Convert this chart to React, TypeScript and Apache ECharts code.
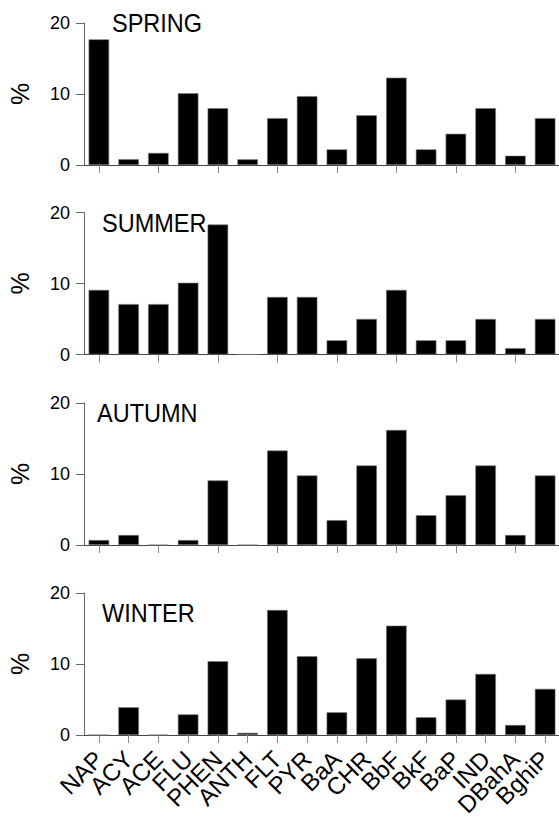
import React, { useEffect, useRef } from "react";
import * as echarts from "echarts";

const categories = ["NAP", "ACY", "ACE", "FLU", "PHEN", "ANTH", "FLT", "PYR", "BaA", "CHR", "BbF", "BkF", "BaP", "IND", "DBahA", "BghiP"];
const seasons = ["SPRING", "SUMMER", "AUTUMN", "WINTER"];
const spring = [17.7, 0.8, 1.7, 10.1, 8.0, 0.8, 6.6, 9.7, 2.2, 7.0, 12.3, 2.2, 4.4, 8.0, 1.3, 6.6];
const summer = [9.1, 7.1, 7.1, 10.1, 18.3, 0, 8.1, 8.1, 2.0, 5.0, 9.1, 2.0, 2.0, 5.0, 0.9, 5.0];
const autumn = [0.7, 1.4, 0, 0.7, 9.1, 0, 13.3, 9.8, 3.5, 11.2, 16.2, 4.2, 7.0, 11.2, 1.4, 9.8];
const winter = [0, 3.9, 0, 2.9, 10.4, 0.3, 17.6, 11.1, 3.2, 10.8, 15.4, 2.5, 5.0, 8.6, 1.4, 6.5];
const yTicks = [0, 10, 20];

const FONT = "'Liberation Sans', Arial, sans-serif";

export default function App() {
  const ref = useRef<HTMLDivElement>(null);
  useEffect(() => {
    document.body.style.margin = "0";
    const chart = echarts.init(ref.current!, null, { renderer: "svg" });
    const data = [spring, summer, autumn, winter];
    const tops = [23, 212.5, 403, 593];
    const titleLeft = [112, 102, 97, 102];
    const titleBaseline = [31.7, 232.3, 422.3, 622.3];
    const H = 142;
    const grids = tops.map((t) => ({ left: 84, top: t, width: 476, height: H, outerBoundsMode: "none", containLabel: false }));
    const xAxes = data.map((_, i) => ({
      type: "category",
      gridIndex: i,
      data: categories,
      axisLine: { lineStyle: { color: "#444", width: 1 } },
      axisTick: { show: true, alignWithLabel: true, length: 8, lineStyle: { color: "#888" } },
      axisLabel: i === 3
        ? { show: true, rotate: 45, interval: 0, fontSize: 24, color: "#000", fontFamily: FONT, margin: 20 }
        : { show: false },
    }));
    const yAxes = data.map((_, i) => ({
      type: "value",
      gridIndex: i,
      min: 0,
      max: yTicks[yTicks.length - 1],
      interval: 10,
      name: "%",
      nameLocation: "middle",
      nameGap: 52,
      nameMoveOverlap: false,
      nameTextStyle: { fontSize: 25, color: "#000", fontFamily: FONT },
      axisLine: { show: true, lineStyle: { color: "#666", width: 1 } },
      axisTick: { show: true, length: 8, lineStyle: { color: "#666" } },
      splitLine: { show: false },
      axisLabel: { fontSize: 18, color: "#000", fontFamily: FONT, margin: 14 },
    }));
    const series = data.map((d, i) => ({
      type: "bar",
      xAxisIndex: i,
      yAxisIndex: i,
      data: d,
      barCategoryGap: "31%",
      itemStyle: { color: "#000", borderColor: "#777", borderWidth: 0.6 },
    }));
    const graphic = seasons.map((s, i) => ({
      type: "text",
      x: titleLeft[i],
      y: titleBaseline[i] - 8.8,
      scaleX: 0.94,
      style: { text: s, fontSize: 25, fontFamily: FONT, fill: "#000", textAlign: "left", textVerticalAlign: "middle" },
    }));
    chart.setOption({
      animation: false,
      backgroundColor: "#fff",
      grid: grids,
      xAxis: xAxes,
      yAxis: yAxes,
      series,
      graphic,
    });
    return () => chart.dispose();
  }, []);
  return <div ref={ref} style={{ width: 559, height: 817 }} />;
}
